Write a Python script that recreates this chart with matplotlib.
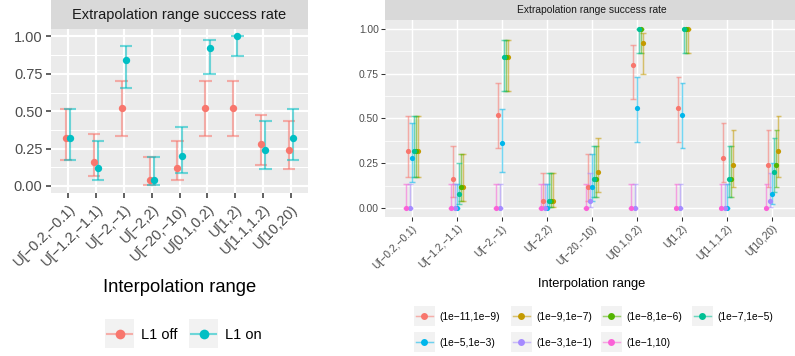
import numpy as np
import matplotlib
matplotlib.use("Agg")
import matplotlib.pyplot as plt
from matplotlib.patches import Rectangle
from matplotlib.lines import Line2D

plt.rcParams['font.family'] = ['Liberation Sans', 'DejaVu Sans']

W, H = 795, 356

categories = ["U[−0.2,−0.1)", "U[−1.2,−1.1)", "U[−2,−1)", "U[−2,2)", "U[−20,−10)",
              "U[0.1,0.2)", "U[1,2)", "U[1.1,1.2)", "U[10,20)"]

# left chart: L1 off / L1 on
l1_names = ["L1 off", "L1 on"]
l1_colors = ["#F8766D", "#00BFC4"]
l1_rate = [
    [0.32, 0.16, 0.52, 0.04, 0.12, 0.52, 0.52, 0.28, 0.24],
    [0.32, 0.12, 0.84, 0.04, 0.20, 0.92, 1.00, 0.24, 0.32],
]
l1_lo = [
    [0.172, 0.064, 0.335, 0.007, 0.042, 0.335, 0.335, 0.143, 0.115],
    [0.172, 0.042, 0.653, 0.007, 0.089, 0.750, 0.867, 0.115, 0.172],
]
l1_hi = [
    [0.516, 0.347, 0.700, 0.195, 0.300, 0.700, 0.700, 0.476, 0.434],
    [0.516, 0.300, 0.936, 0.195, 0.391, 0.978, 1.000, 0.434, 0.516],
]

# right chart: coefficient ranges
rng_names = ["(1e−11,1e−9)", "(1e−9,1e−7)", "(1e−8,1e−6)", "(1e−7,1e−5)",
             "(1e−5,1e−3)", "(1e−3,1e−1)", "(1e−1,10)"]
rng_colors = ["#F8766D", "#C49A00", "#53B400", "#00C094", "#00B6EB", "#A58AFF", "#FB61D7"]
# dodge order (alphabetical levels)
rng_dodge = [1, 6, 5, 4, 3, 2, 0]
rng_rate = [
    [0.32, 0.16, 0.52, 0.04, 0.12, 0.80, 0.56, 0.28, 0.24],
    [0.32, 0.12, 0.84, 0.04, 0.20, 0.92, 1.00, 0.24, 0.32],
    [0.32, 0.12, 0.84, 0.04, 0.16, 1.00, 1.00, 0.16, 0.24],
    [0.32, 0.08, 0.84, 0.04, 0.16, 1.00, 1.00, 0.16, 0.20],
    [0.28, 0.00, 0.36, 0.00, 0.12, 0.56, 0.52, 0.00, 0.08],
    [0.00, 0.00, 0.00, 0.00, 0.04, 0.00, 0.00, 0.00, 0.04],
    [0.00, 0.00, 0.00, 0.00, 0.00, 0.00, 0.00, 0.00, 0.00],
]
rng_lo = [
    [0.172, 0.064, 0.335, 0.007, 0.042, 0.609, 0.371, 0.143, 0.115],
    [0.172, 0.042, 0.653, 0.007, 0.089, 0.750, 0.867, 0.115, 0.172],
    [0.172, 0.042, 0.653, 0.007, 0.064, 0.867, 0.867, 0.064, 0.115],
    [0.172, 0.022, 0.653, 0.007, 0.064, 0.867, 0.867, 0.064, 0.089],
    [0.143, 0.000, 0.202, 0.000, 0.042, 0.371, 0.335, 0.000, 0.022],
    [0.000, 0.000, 0.000, 0.000, 0.007, 0.000, 0.000, 0.000, 0.007],
    [0.000, 0.000, 0.000, 0.000, 0.000, 0.000, 0.000, 0.000, 0.000],
]
rng_hi = [
    [0.516, 0.347, 0.700, 0.195, 0.300, 0.911, 0.733, 0.476, 0.434],
    [0.516, 0.300, 0.936, 0.195, 0.391, 0.978, 1.000, 0.434, 0.516],
    [0.516, 0.300, 0.936, 0.195, 0.347, 1.000, 1.000, 0.347, 0.434],
    [0.516, 0.250, 0.936, 0.195, 0.347, 1.000, 1.000, 0.347, 0.391],
    [0.476, 0.133, 0.555, 0.133, 0.300, 0.733, 0.700, 0.133, 0.250],
    [0.133, 0.133, 0.133, 0.133, 0.195, 0.133, 0.133, 0.133, 0.195],
    [0.133, 0.133, 0.133, 0.133, 0.133, 0.133, 0.133, 0.133, 0.133],
]

fig = plt.figure(figsize=(W / 100, H / 100), dpi=100)


def px_axes(x0, y0, x1, y1):
    return fig.add_axes([x0 / W, 1 - y1 / H, (x1 - x0) / W, (y1 - y0) / H])


def panel(ax, s, title_ax):
    # ggplot-like gray panel
    ax.set_facecolor("#EBEBEB")
    for sp in ax.spines.values():
        sp.set_visible(False)
    ax.set_xlim(-0.6, len(categories) - 0.4)
    ax.set_ylim(-0.05, 1.05)
    ax.set_yticks([0, 0.25, 0.5, 0.75, 1.0])
    ax.set_yticklabels(["0.00", "0.25", "0.50", "0.75", "1.00"])
    ax.set_yticks([0.125, 0.375, 0.625, 0.875], minor=True)
    ax.set_xticks(range(len(categories)))
    ax.set_xticklabels(categories, rotation=45, ha="right", va="top",
                       rotation_mode="anchor")
    ax.grid(True, which="major", color="white", linewidth=1.28 * s)
    ax.grid(True, which="minor", axis="y", color="white", linewidth=0.64 * s)
    ax.tick_params(which="minor", length=0)
    ax.tick_params(which="major", length=2.75 * s * 1.1, width=0.9 * s,
                   color="#333333", labelcolor="#4D4D4D", labelsize=8.8 * s,
                   pad=2.2 * s)
    ax.set_axisbelow(True)
    ax.set_xlabel("Interpolation range", fontsize=11 * s, labelpad=6 * s)
    title_ax.set_facecolor("#D9D9D9")
    title_ax.set_xticks([])
    title_ax.set_yticks([])
    for sp in title_ax.spines.values():
        sp.set_visible(False)
    title_ax.text(0.5, 0.5, "Extrapolation range success rate", ha="center",
                  va="center", fontsize=8.8 * s, color="#1A1A1A",
                  transform=title_ax.transAxes)


def draw_series(ax, x, rate, lo, hi, color, cap, lw, ms):
    ax.vlines(x, lo, hi, color=color, alpha=0.55, linewidth=lw)
    ax.hlines(lo, x - cap / 2, x + cap / 2, color=color, alpha=0.55, linewidth=lw)
    ax.hlines(hi, x - cap / 2, x + cap / 2, color=color, alpha=0.55, linewidth=lw)


def legend_key(lax, x0, y0, size, color, label, s, ms):
    lax.add_patch(Rectangle((x0, y0), size, size, facecolor="#F2F2F2",
                            edgecolor="none"))
    lax.add_line(Line2D([x0 + 2, x0 + size - 2], [y0 + size / 2] * 2,
                        color=color, alpha=0.55, linewidth=1.28 * s))
    lax.plot([x0 + size / 2], [y0 + size / 2], "o", color=color, markersize=ms,
             markeredgewidth=0)
    lax.text(x0 + size + 5.5 * s, y0 + size / 2, label, ha="left",
             va="center_baseline", fontsize=8.8 * s)


# ---------------- left chart ----------------
sL = 1.2
axL = px_axes(51.3, 29, 307.8, 193.4)
tL = px_axes(51.3, 0, 307.8, 29)
panel(axL, sL, tL)
xs = np.arange(len(categories))
offs = [-0.075, 0.075]
for i in range(2):
    draw_series(axL, xs + offs[i], np.array(l1_rate[i]), np.array(l1_lo[i]),
                np.array(l1_hi[i]), l1_colors[i], 0.45, 1.28 * sL, 7)
for i in range(2):
    axL.scatter(xs + offs[i], l1_rate[i], s=28, color=l1_colors[i],
                linewidths=0, zorder=3)

# ---------------- right chart ----------------
sR = 0.84
axR = px_axes(384.8, 19.8, 799.4, 217)
tR = px_axes(384.8, 0, 799.4, 19.8)
panel(axR, sR, tR)
dw = 0.31 / 7
for i in range(len(rng_names)):
    x = xs + (rng_dodge[i] - 3) * dw
    draw_series(axR, x, np.array(rng_rate[i]), np.array(rng_lo[i]),
                np.array(rng_hi[i]), rng_colors[i], 0.12, 1.28 * sR, 5)
for i in range(len(rng_names)):
    x = xs + (rng_dodge[i] - 3) * dw
    axR.scatter(x, rng_rate[i], s=14, color=rng_colors[i], linewidths=0,
                zorder=3)

# ---------------- legends ----------------
lax = px_axes(0, 0, W, H)
lax.set_xlim(0, W)
lax.set_ylim(H, 0)
lax.axis("off")
lax.set_zorder(-1)

left_key_x = [105, 189]
for i in range(2):
    legend_key(lax, left_key_x[i], 319, 29, l1_colors[i], l1_names[i], sL, 7)

right_key_x = [414, 511, 601, 692]
right_key_y = [305.5, 331.5]
for i in range(len(rng_names)):
    legend_key(lax, right_key_x[i % 4], right_key_y[i // 4], 20.7,
               rng_colors[i], rng_names[i], sR, 5)

fig.savefig("out.png", dpi=100)
